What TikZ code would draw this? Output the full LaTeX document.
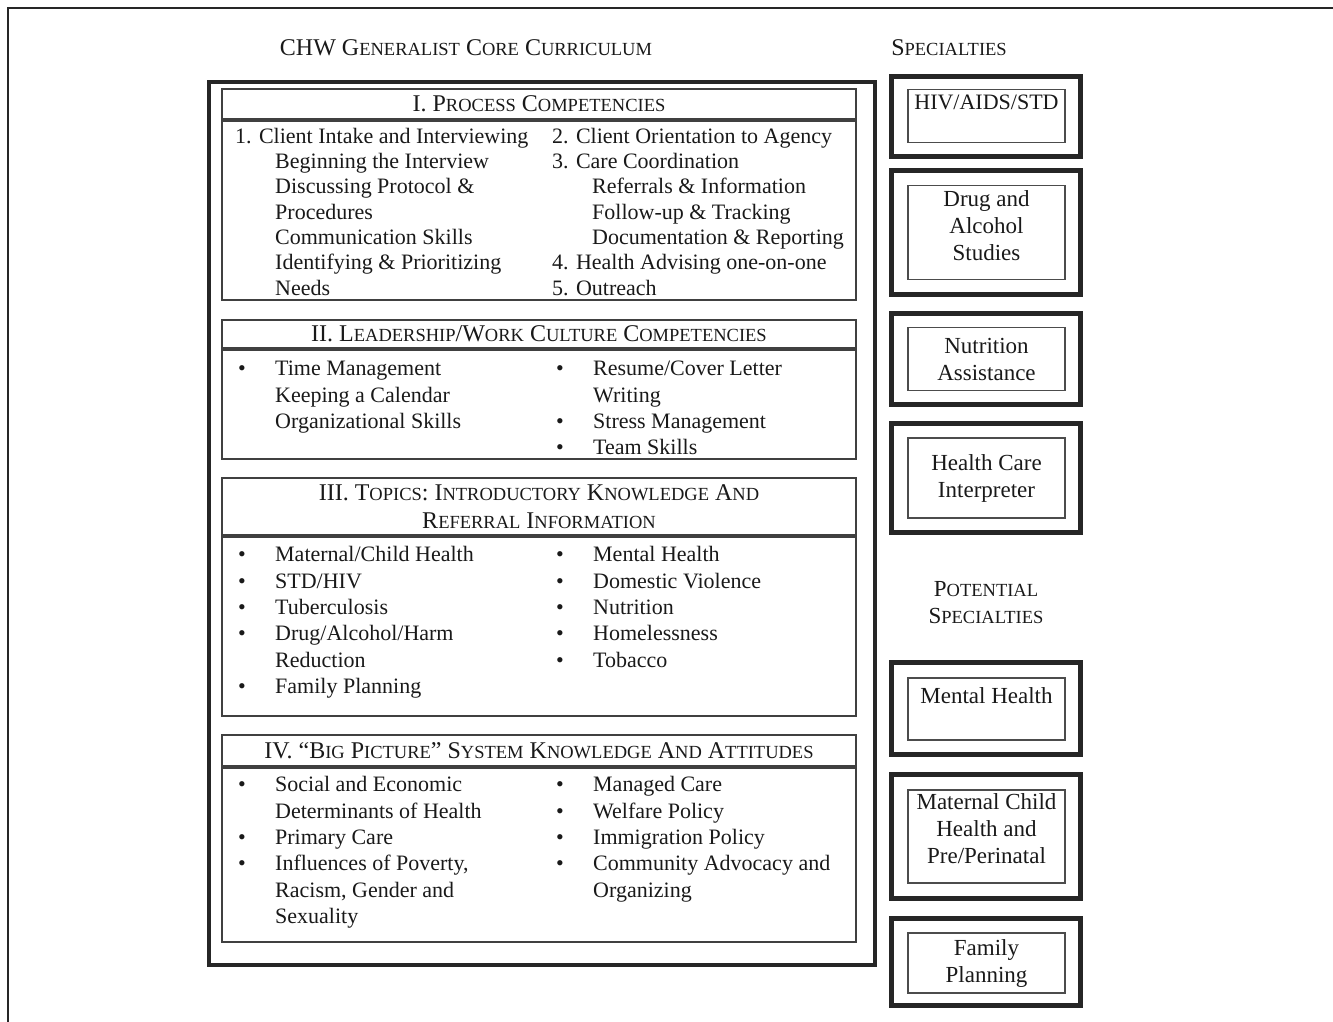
\documentclass[tikz,border=0pt]{standalone}
\usepackage{fontspec}
\setmainfont{Liberation Serif}

% faked small capitals, bullets and indents
\newcommand{\lc}[1]{{\fontsize{18.5}{18.5}\selectfont\MakeUppercase{#1}}}
\newcommand{\bul}[1]{\strut\makebox[37pt][l]{\textbullet}#1}
\newcommand{\ind}[1]{\strut\hspace*{37pt}#1}
\newcommand{\sub}[1]{\strut\hspace*{40pt}#1}
\newcommand{\bodyfont}{\fontsize{22}{25.3}\selectfont}
\newcommand{\listfont}{\fontsize{22}{26.3}\selectfont}
\newcommand{\headfont}{\fontsize{24}{28}\selectfont}
\newcommand{\specfont}{\fontsize{23}{27}\selectfont}

\tikzset{
  mainbox/.style={draw=black!85, line width=3.5pt, minimum width=666pt, inner sep=0pt},
  secthead/.style={draw=black!75, line width=1.5pt, minimum width=634pt, inner sep=0pt, align=center, font=\headfont},
  sectbody/.style={draw=black!75, line width=1.5pt, minimum width=634pt, inner sep=0pt},
  coltext/.style={anchor=north west, inner sep=0pt, align=left, font=\bodyfont},
  listtext/.style={anchor=north west, inner sep=0pt, align=left, font=\listfont},
  specout/.style={draw=black!85, line width=4.5pt, minimum width=189pt, inner sep=0pt},
  specin/.style={draw=black!70, line width=1.5pt, minimum width=157pt, inner sep=0pt, align=center, font=\specfont},
  heading/.style={inner sep=0pt, align=center, font=\headfont},
}

\begin{document}
\begin{tikzpicture}[x=1pt, y=-1pt, text=black!90]
    \useasboundingbox (0,0) rectangle (1333,1022);
    % page frame
    \draw[line width=2pt, black!85] (8,1022) -- (8,8) -- (1333,8);

    % Titulos
    \node[heading] (coretitle) at (466,48) {CHW G\lc{eneralist} C\lc{ore} C\lc{urriculum}};
    \node[heading] (spectitle) at (949,48) {S\lc{pecialties}};
    \node[heading, font=\specfont] (pottitle) at (986,603) {P\lc{otential}\\S\lc{pecialties}};

    % Curriculo
    \node[mainbox, minimum height=883pt] (core) at (542,523.5) {};

    % I
    \node[secthead, minimum height=30pt] (headI) at (539,104) {I. P\lc{rocess} C\lc{ompetencies}};
    \node[sectbody, minimum height=179pt] (bodyI) at (539,210.5) {};
    \node[coltext] (procL) at (235,125.3) {\strut 1. Client Intake and Interviewing\\
        \sub{Beginning the Interview}\\ \sub{Discussing Protocol \&}\\ \sub{Procedures}\\
        \sub{Communication Skills}\\ \sub{Identifying \& Prioritizing}\\ \sub{Needs}};
    \node[coltext] (procR) at (552,125.3) {\strut 2. Client Orientation to Agency\\
        \strut 3. Care Coordination\\ \sub{Referrals \& Information}\\
        \sub{Follow-up \& Tracking}\\ \sub{Documentation \& Reporting}\\
        \strut 4. Health Advising one-on-one\\ \strut 5. Outreach};

    % II
    \node[secthead, minimum height=28pt] (headII) at (539,334) {II. L\lc{eadership}/W\lc{ork} C\lc{ulture} C\lc{ompetencies}};
    \node[sectbody, minimum height=109pt] (bodyII) at (539,404.5) {};
    \node[listtext] (leadL) at (238,357.3) {\bul{Time Management}\\ \ind{Keeping a Calendar}\\ \ind{Organizational Skills}};
    \node[listtext] (leadR) at (556,357.3) {\bul{Resume/Cover Letter}\\ \ind{Writing}\\ \bul{Stress Management}\\ \bul{Team Skills}};

    % III
    \node[secthead, minimum height=57pt] (headIII) at (539,506.5) {III. T\lc{opics}: I\lc{ntroductory} K\lc{nowledge} A\lc{nd}\\R\lc{eferral} I\lc{nformation}};
    \node[sectbody, minimum height=179pt] (bodyIII) at (539,626.5) {};
    \node[listtext] (topL) at (238,543.3) {\bul{Maternal/Child Health}\\ \bul{STD/HIV}\\ \bul{Tuberculosis}\\
        \bul{Drug/Alcohol/Harm}\\ \ind{Reduction}\\ \bul{Family Planning}};
    \node[listtext] (topR) at (556,543.3) {\bul{Mental Health}\\ \bul{Domestic Violence}\\ \bul{Nutrition}\\
        \bul{Homelessness}\\ \bul{Tobacco}};

    % IV
    \node[secthead, minimum height=31pt] (headIV) at (539,750.5) {IV. “B\lc{ig} P\lc{icture}” S\lc{ystem} K\lc{nowledge} A\lc{nd} A\lc{ttitudes}};
    \node[sectbody, minimum height=174pt] (bodyIV) at (539,855) {};
    \node[listtext] (sysL) at (238,773.3) {\bul{Social and Economic}\\ \ind{Determinants of Health}\\ \bul{Primary Care}\\
        \bul{Influences of Poverty,}\\ \ind{Racism, Gender and}\\ \ind{Sexuality}};
    \node[listtext] (sysR) at (556,773.3) {\bul{Managed Care}\\ \bul{Welfare Policy}\\ \bul{Immigration Policy}\\
        \bul{Community Advocacy and}\\ \ind{Organizing}};

    % Especialidades
    \node[specout, minimum height=80pt] (hivbox) at (986,116.5) {};
    \node[specin, minimum height=53pt, font=\fontsize{22}{27}\selectfont] (hiv) at (986.5,116) {HIV/AIDS/STD\\\mbox{}};
    \node[specout, minimum height=124pt] (drugbox) at (986,232.5) {};
    \node[specin, minimum height=94pt] (drug) at (986.5,232.5) {Drug and\\Alcohol\\Studies\\[-14pt]\mbox{}};
    \node[specout, minimum height=91pt] (nutbox) at (986,359) {};
    \node[specin, minimum height=63pt] (nut) at (986.5,359) {Nutrition\\Assistance};
    \node[specout, minimum height=109pt] (interpbox) at (986,478) {};
    \node[specin, minimum height=80pt] (interp) at (986.5,478) {Health Care\\Interpreter};

    % Potenciais
    \node[specout, minimum height=92pt] (mentalbox) at (986,708.5) {};
    \node[specin, minimum height=62pt] (mental) at (986.5,709) {Mental Health\\\mbox{}};
    \node[specout, minimum height=124pt] (matbox) at (986,836.5) {};
    \node[specin, minimum height=93pt] (mat) at (986.5,836.5) {Maternal Child\\Health and\\Pre/Perinatal\\[-11pt]\mbox{}};
    \node[specout, minimum height=87pt] (fambox) at (986,962) {};
    \node[specin, minimum height=60pt] (fam) at (986.5,963) {Family\\Planning};
\end{tikzpicture}
\end{document}
